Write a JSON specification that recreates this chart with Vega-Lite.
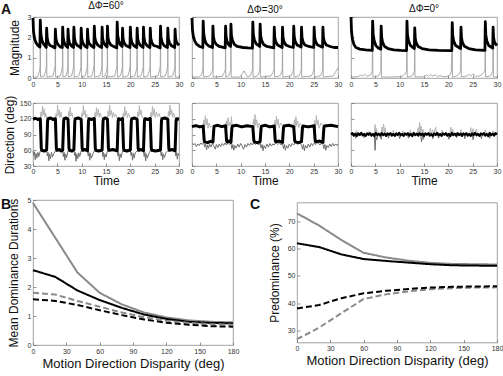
{
"$schema": "https://vega.github.io/schema/vega-lite/v6.json",
"padding": {"left": 0, "top": 0, "right": 0, "bottom": 0},
"background": "white",
"bounds": "flush",
"spacing": 183,
"datasets": {
"m1k": [{"t":0,"v":2.95},{"t":0.1,"v":2.3},{"t":0.3,"v":1.95},{"t":0.6,"v":1.75},{"t":1.0,"v":1.6},{"t":1.42,"v":1.52},
{"t":1.5,"v":2.85},{"t":1.6,"v":2.2},{"t":1.8,"v":1.9},{"t":2.1,"v":1.7},{"t":2.4,"v":1.6},{"t":2.72,"v":1.5},
{"t":2.8,"v":2.45},{"t":2.9,"v":2.0},{"t":3.1,"v":1.75},{"t":3.5,"v":1.6},{"t":4.0,"v":1.55},{"t":4.52,"v":1.48},
{"t":4.6,"v":2.4},{"t":4.7,"v":1.95},{"t":4.9,"v":1.75},{"t":5.3,"v":1.6},{"t":5.7,"v":1.52},{"t":6.02,"v":1.5},
{"t":6.1,"v":2.5},{"t":6.2,"v":2.0},{"t":6.4,"v":1.75},{"t":6.7,"v":1.6},{"t":7.12,"v":1.5},
{"t":7.2,"v":2.4},{"t":7.3,"v":1.95},{"t":7.5,"v":1.72},{"t":7.9,"v":1.58},{"t":8.32,"v":1.5},
{"t":8.4,"v":2.5},{"t":8.5,"v":2.0},{"t":8.7,"v":1.75},{"t":9.1,"v":1.6},{"t":9.5,"v":1.55},{"t":9.82,"v":1.48},
{"t":9.9,"v":2.45},{"t":10.0,"v":1.95},{"t":10.2,"v":1.75},{"t":10.6,"v":1.58},{"t":11.12,"v":1.5},
{"t":11.2,"v":2.4},{"t":11.3,"v":1.95},{"t":11.5,"v":1.72},{"t":11.9,"v":1.6},{"t":12.52,"v":1.5},
{"t":12.6,"v":2.55},{"t":12.7,"v":2.0},{"t":12.9,"v":1.78},{"t":13.3,"v":1.62},{"t":13.7,"v":1.55},{"t":14.12,"v":1.5},
{"t":14.2,"v":2.5},{"t":14.3,"v":1.95},{"t":14.5,"v":1.75},{"t":14.9,"v":1.6},{"t":15.22,"v":1.52},
{"t":15.3,"v":2.55},{"t":15.4,"v":2.0},{"t":15.6,"v":1.78},{"t":16.0,"v":1.62},{"t":16.6,"v":1.55},{"t":17.22,"v":1.48},
{"t":17.3,"v":2.75},{"t":17.4,"v":2.1},{"t":17.6,"v":1.85},{"t":17.9,"v":1.65},{"t":18.32,"v":1.55},
{"t":18.4,"v":2.45},{"t":18.5,"v":1.95},{"t":18.7,"v":1.75},{"t":19.1,"v":1.6},{"t":19.92,"v":1.5},
{"t":20.0,"v":2.5},{"t":20.1,"v":2.0},{"t":20.3,"v":1.75},{"t":20.7,"v":1.6},{"t":21.32,"v":1.5},
{"t":21.4,"v":2.45},{"t":21.5,"v":1.95},{"t":21.7,"v":1.75},{"t":22.1,"v":1.6},{"t":22.62,"v":1.5},
{"t":22.7,"v":2.5},{"t":22.8,"v":2.0},{"t":23.0,"v":1.75},{"t":23.4,"v":1.6},{"t":24.02,"v":1.5},
{"t":24.1,"v":2.45},{"t":24.2,"v":1.95},{"t":24.4,"v":1.75},{"t":24.8,"v":1.6},{"t":25.5,"v":1.55},{"t":26.12,"v":1.48},
{"t":26.2,"v":2.55},{"t":26.3,"v":2.0},{"t":26.5,"v":1.78},{"t":26.9,"v":1.6},{"t":27.62,"v":1.5},
{"t":27.7,"v":2.45},{"t":27.8,"v":1.95},{"t":28.0,"v":1.75},{"t":28.4,"v":1.6},{"t":29.12,"v":1.5},
{"t":29.2,"v":2.4},{"t":29.3,"v":1.95},{"t":29.5,"v":1.75},{"t":30,"v":1.6}],
"m1g": [{"t":0,"v":0.05},{"t":0.3,"v":0.03},{"t":1.0,"v":0.08},{"t":1.3,"v":0.3},{"t":1.45,"v":0.55},{"t":1.5,"v":2.3},{"t":1.55,"v":0.06},
{"t":2.3,"v":0.1},{"t":2.6,"v":0.35},{"t":2.75,"v":0.6},{"t":2.8,"v":2.2},{"t":2.85,"v":0.05},
{"t":4.1,"v":0.1},{"t":4.4,"v":0.4},{"t":4.55,"v":0.6},{"t":4.6,"v":2.1},{"t":4.65,"v":0.05},
{"t":5.6,"v":0.1},{"t":5.9,"v":0.35},{"t":6.05,"v":0.55},{"t":6.1,"v":2.2},{"t":6.15,"v":0.05},
{"t":6.8,"v":0.1},{"t":7.0,"v":0.3},{"t":7.15,"v":0.5},{"t":7.2,"v":2.1},{"t":7.25,"v":0.05},
{"t":7.9,"v":0.1},{"t":8.2,"v":0.35},{"t":8.35,"v":0.6},{"t":8.4,"v":2.2},{"t":8.45,"v":0.05},
{"t":9.4,"v":0.1},{"t":9.7,"v":0.35},{"t":9.85,"v":0.55},{"t":9.9,"v":2.15},{"t":9.95,"v":0.05},
{"t":10.7,"v":0.1},{"t":11.0,"v":0.35},{"t":11.15,"v":0.55},{"t":11.2,"v":2.1},{"t":11.25,"v":0.05},
{"t":12.1,"v":0.1},{"t":12.4,"v":0.4},{"t":12.55,"v":0.6},{"t":12.6,"v":2.25},{"t":12.65,"v":0.05},
{"t":13.7,"v":0.1},{"t":14.0,"v":0.35},{"t":14.15,"v":0.55},{"t":14.2,"v":2.2},{"t":14.25,"v":0.05},
{"t":14.8,"v":0.1},{"t":15.1,"v":0.35},{"t":15.25,"v":0.55},{"t":15.3,"v":2.25},{"t":15.35,"v":0.05},
{"t":16.8,"v":0.1},{"t":17.1,"v":0.4},{"t":17.25,"v":0.6},{"t":17.3,"v":2.4},{"t":17.35,"v":0.05},
{"t":17.9,"v":0.1},{"t":18.2,"v":0.3},{"t":18.35,"v":0.5},{"t":18.4,"v":2.15},{"t":18.45,"v":0.05},
{"t":19.5,"v":0.1},{"t":19.8,"v":0.35},{"t":19.95,"v":0.55},{"t":20.0,"v":2.2},{"t":20.05,"v":0.05},
{"t":20.9,"v":0.1},{"t":21.2,"v":0.35},{"t":21.35,"v":0.55},{"t":21.4,"v":2.15},{"t":21.45,"v":0.05},
{"t":22.2,"v":0.1},{"t":22.5,"v":0.35},{"t":22.65,"v":0.55},{"t":22.7,"v":2.2},{"t":22.75,"v":0.05},
{"t":23.6,"v":0.1},{"t":23.9,"v":0.35},{"t":24.05,"v":0.55},{"t":24.1,"v":2.15},{"t":24.15,"v":0.05},
{"t":25.7,"v":0.1},{"t":26.0,"v":0.4},{"t":26.15,"v":0.6},{"t":26.2,"v":2.25},{"t":26.25,"v":0.05},
{"t":27.2,"v":0.1},{"t":27.5,"v":0.35},{"t":27.65,"v":0.55},{"t":27.7,"v":2.15},{"t":27.75,"v":0.05},
{"t":28.7,"v":0.1},{"t":29.0,"v":0.35},{"t":29.15,"v":0.55},{"t":29.2,"v":2.1},{"t":29.25,"v":0.05},{"t":30,"v":0.05}],
"m2k": [{"t":0,"v":2.95},{"t":0.1,"v":2.35},{"t":0.3,"v":2.0},{"t":0.6,"v":1.8},{"t":1.0,"v":1.65},{"t":1.6,"v":1.55},{"t":2.22,"v":1.5},
{"t":2.3,"v":2.8},{"t":2.4,"v":2.2},{"t":2.6,"v":1.9},{"t":2.9,"v":1.7},{"t":3.4,"v":1.58},{"t":4.22,"v":1.5},
{"t":4.3,"v":2.55},{"t":4.4,"v":2.05},{"t":4.6,"v":1.8},{"t":5.0,"v":1.65},{"t":5.6,"v":1.55},{"t":6.82,"v":1.48},
{"t":6.9,"v":2.55},{"t":7.0,"v":2.05},{"t":7.2,"v":1.8},{"t":7.5,"v":1.65},{"t":7.92,"v":1.55},
{"t":8.0,"v":2.65},{"t":8.1,"v":2.1},{"t":8.3,"v":1.85},{"t":8.7,"v":1.65},{"t":9.3,"v":1.55},{"t":10.5,"v":1.5},{"t":11.5,"v":1.48},{"t":12.42,"v":1.47},
{"t":12.5,"v":2.75},{"t":12.6,"v":2.15},{"t":12.8,"v":1.88},{"t":13.2,"v":1.68},{"t":13.92,"v":1.55},
{"t":14.0,"v":2.65},{"t":14.1,"v":2.1},{"t":14.3,"v":1.85},{"t":14.7,"v":1.65},{"t":15.4,"v":1.55},{"t":16.82,"v":1.48},
{"t":16.9,"v":2.5},{"t":17.0,"v":2.0},{"t":17.2,"v":1.78},{"t":17.6,"v":1.62},{"t":18.52,"v":1.5},
{"t":18.6,"v":2.5},{"t":18.7,"v":2.0},{"t":18.9,"v":1.78},{"t":19.3,"v":1.62},{"t":20.0,"v":1.55},{"t":20.82,"v":1.5},
{"t":20.9,"v":2.55},{"t":21.0,"v":2.05},{"t":21.2,"v":1.8},{"t":21.6,"v":1.62},{"t":22.42,"v":1.52},
{"t":22.5,"v":2.5},{"t":22.6,"v":2.0},{"t":22.8,"v":1.78},{"t":23.2,"v":1.62},{"t":24.0,"v":1.55},{"t":25.02,"v":1.5},
{"t":25.1,"v":2.5},{"t":25.2,"v":2.0},{"t":25.4,"v":1.78},{"t":25.8,"v":1.62},{"t":26.82,"v":1.52},
{"t":26.9,"v":2.5},{"t":27.0,"v":2.0},{"t":27.2,"v":1.78},{"t":27.6,"v":1.62},{"t":28.4,"v":1.55},{"t":29.2,"v":1.5},{"t":30,"v":1.5}],
"m2g": [{"t":0,"v":0.05},{"t":1.5,"v":0.05},{"t":1.9,"v":0.15},{"t":2.15,"v":0.3},{"t":2.25,"v":0.45},{"t":2.3,"v":2.3},{"t":2.35,"v":0.05},
{"t":3.6,"v":0.1},{"t":4.0,"v":0.25},{"t":4.25,"v":0.4},{"t":4.3,"v":2.1},{"t":4.35,"v":0.05},
{"t":6.2,"v":0.08},{"t":6.6,"v":0.25},{"t":6.85,"v":0.4},{"t":6.9,"v":2.1},{"t":6.95,"v":0.05},
{"t":7.5,"v":0.1},{"t":7.8,"v":0.25},{"t":7.95,"v":0.4},{"t":8.0,"v":2.2},{"t":8.05,"v":0.05},
{"t":9.8,"v":0.05},{"t":10.3,"v":0.2},{"t":10.7,"v":0.35},{"t":11.0,"v":0.22},{"t":11.4,"v":0.05},
{"t":11.9,"v":0.1},{"t":12.25,"v":0.25},{"t":12.45,"v":0.45},{"t":12.5,"v":2.3},{"t":12.55,"v":0.05},
{"t":13.4,"v":0.1},{"t":13.75,"v":0.25},{"t":13.95,"v":0.4},{"t":14.0,"v":2.2},{"t":14.05,"v":0.05},
{"t":16.2,"v":0.1},{"t":16.6,"v":0.25},{"t":16.85,"v":0.4},{"t":16.9,"v":2.1},{"t":16.95,"v":0.05},
{"t":18.0,"v":0.1},{"t":18.35,"v":0.25},{"t":18.55,"v":0.4},{"t":18.6,"v":2.1},{"t":18.65,"v":0.05},
{"t":20.3,"v":0.1},{"t":20.65,"v":0.25},{"t":20.85,"v":0.4},{"t":20.9,"v":2.1},{"t":20.95,"v":0.05},
{"t":21.9,"v":0.1},{"t":22.25,"v":0.25},{"t":22.45,"v":0.4},{"t":22.5,"v":2.1},{"t":22.55,"v":0.05},
{"t":24.5,"v":0.1},{"t":24.85,"v":0.25},{"t":25.05,"v":0.4},{"t":25.1,"v":2.1},{"t":25.15,"v":0.05},
{"t":26.3,"v":0.1},{"t":26.65,"v":0.25},{"t":26.85,"v":0.4},{"t":26.9,"v":2.1},{"t":26.95,"v":0.05},
{"t":29.0,"v":0.1},{"t":29.5,"v":0.3},{"t":30,"v":0.5}],
"m3k": [{"t":0,"v":3.0},{"t":0.1,"v":2.3},{"t":0.3,"v":1.9},{"t":0.6,"v":1.65},{"t":1.0,"v":1.5},{"t":1.8,"v":1.42},{"t":3.0,"v":1.38},{"t":4.37,"v":1.36},
{"t":4.45,"v":2.8},{"t":4.55,"v":2.15},{"t":4.75,"v":1.85},{"t":5.1,"v":1.6},{"t":5.6,"v":1.48},{"t":6.12,"v":1.42},
{"t":6.2,"v":2.55},{"t":6.3,"v":2.0},{"t":6.5,"v":1.75},{"t":6.9,"v":1.55},{"t":7.6,"v":1.45},{"t":8.8,"v":1.38},{"t":10.2,"v":1.36},{"t":11.42,"v":1.35},
{"t":11.5,"v":2.8},{"t":11.6,"v":2.15},{"t":11.8,"v":1.85},{"t":12.2,"v":1.6},{"t":13.02,"v":1.45},
{"t":13.1,"v":2.47},{"t":13.2,"v":1.95},{"t":13.4,"v":1.72},{"t":13.8,"v":1.55},{"t":14.6,"v":1.45},{"t":16.0,"v":1.38},{"t":18.0,"v":1.36},{"t":20.72,"v":1.35},
{"t":20.8,"v":2.72},{"t":20.9,"v":2.1},{"t":21.1,"v":1.82},{"t":21.5,"v":1.6},{"t":22.52,"v":1.45},
{"t":22.6,"v":2.5},{"t":22.7,"v":1.98},{"t":22.9,"v":1.74},{"t":23.3,"v":1.56},{"t":24.2,"v":1.45},{"t":25.6,"v":1.38},{"t":27.52,"v":1.36},
{"t":27.6,"v":2.77},{"t":27.7,"v":2.12},{"t":27.9,"v":1.83},{"t":28.3,"v":1.6},{"t":29.12,"v":1.47},
{"t":29.2,"v":2.5},{"t":29.3,"v":1.98},{"t":29.5,"v":1.74},{"t":30,"v":1.6}],
"m3g": [{"t":0,"v":0.05},{"t":1.5,"v":0.06},{"t":2.0,"v":0.15},{"t":2.4,"v":0.1},{"t":2.8,"v":0.18},{"t":3.3,"v":0.08},{"t":4.0,"v":0.15},{"t":4.35,"v":0.3},{"t":4.45,"v":2.2},{"t":4.5,"v":0.05},
{"t":5.6,"v":0.1},{"t":6.0,"v":0.25},{"t":6.15,"v":0.35},{"t":6.2,"v":2.1},{"t":6.25,"v":0.05},
{"t":9.0,"v":0.05},{"t":10.5,"v":0.08},{"t":11.1,"v":0.2},{"t":11.42,"v":0.35},{"t":11.5,"v":2.3},{"t":11.55,"v":0.05},
{"t":12.5,"v":0.1},{"t":12.9,"v":0.25},{"t":13.05,"v":0.35},{"t":13.1,"v":2.1},{"t":13.15,"v":0.05},
{"t":15.0,"v":0.06},{"t":15.5,"v":0.15},{"t":15.9,"v":0.08},{"t":16.3,"v":0.18},{"t":16.7,"v":0.1},{"t":17.3,"v":0.15},{"t":17.8,"v":0.07},{"t":18.3,"v":0.12},{"t":19.0,"v":0.06},{"t":20.2,"v":0.1},{"t":20.6,"v":0.3},{"t":20.8,"v":2.2},{"t":20.85,"v":0.05},
{"t":21.8,"v":0.1},{"t":22.3,"v":0.25},{"t":22.55,"v":0.35},{"t":22.6,"v":2.1},{"t":22.65,"v":0.05},
{"t":23.8,"v":0.1},{"t":24.2,"v":0.18},{"t":24.6,"v":0.1},{"t":25.1,"v":0.2},{"t":25.6,"v":0.08},{"t":26.5,"v":0.1},{"t":27.2,"v":0.25},{"t":27.52,"v":0.35},{"t":27.6,"v":2.3},{"t":27.65,"v":0.05},
{"t":28.6,"v":0.1},{"t":29.0,"v":0.25},{"t":29.15,"v":0.35},{"t":29.2,"v":2.1},{"t":29.25,"v":0.05},{"t":30,"v":0.05}],
"d1k": [{"t":0,"v":119},{"t":0.5,"v":121},{"t":1.0,"v":118.5},{"t":1.5,"v":120},{"t":1.7,"v":64},{"t":1.8,"v":60},{"t":2.3,"v":58.5},{"t":2.8,"v":60.5},{"t":3.0,"v":116},{"t":3.1,"v":120},{"t":3.6,"v":121.5},{"t":4.1,"v":118.5},{"t":4.6,"v":120},{"t":4.8,"v":64},{"t":4.9,"v":60},{"t":5.4,"v":61.5},{"t":5.8,"v":58.5},{"t":6.1,"v":60},{"t":6.3,"v":116},{"t":6.4,"v":120},{"t":6.8,"v":121.5},{"t":7.2,"v":119},{"t":7.4,"v":64},{"t":7.5,"v":60},{"t":8.0,"v":58.5},{"t":8.4,"v":61},{"t":8.6,"v":116},{"t":8.7,"v":120},{"t":9.3,"v":121.5},{"t":9.9,"v":119},{"t":10.1,"v":64},{"t":10.2,"v":60},{"t":10.7,"v":61.5},{"t":11.2,"v":59},{"t":11.4,"v":116},{"t":11.5,"v":120},{"t":12.0,"v":118.5},{"t":12.6,"v":120.5},{"t":12.8,"v":64},{"t":12.9,"v":60},{"t":13.5,"v":58.5},{"t":14.2,"v":60.5},{"t":14.4,"v":116},{"t":14.5,"v":120},{"t":14.9,"v":121.5},{"t":15.3,"v":119},{"t":15.5,"v":64},{"t":15.6,"v":60},{"t":16.4,"v":61.5},{"t":17.3,"v":59},{"t":17.5,"v":116},{"t":17.6,"v":120},{"t":18.0,"v":118.5},{"t":18.4,"v":120.5},{"t":18.6,"v":64},{"t":18.7,"v":60},{"t":19.3,"v":58.5},{"t":20.0,"v":60.5},{"t":20.2,"v":116},{"t":20.3,"v":120},{"t":20.9,"v":121.5},{"t":21.4,"v":119},{"t":21.6,"v":64},{"t":21.7,"v":60},{"t":22.2,"v":61.5},{"t":22.7,"v":59},{"t":22.9,"v":116},{"t":23.0,"v":120},{"t":23.6,"v":118.5},{"t":24.1,"v":120.5},{"t":24.3,"v":64},{"t":24.4,"v":60},{"t":25.2,"v":58.5},{"t":26.2,"v":60.5},{"t":26.4,"v":116},{"t":26.5,"v":120},{"t":27.1,"v":121.5},{"t":27.7,"v":119},{"t":27.9,"v":64},{"t":28.0,"v":60},{"t":28.6,"v":61.5},{"t":29.2,"v":59},{"t":29.4,"v":116},{"t":29.5,"v":120},{"t":30,"v":119}],
"d1l": [{"t":0,"v":121},{"t":1.5,"v":121},{"t":1.65,"v":133},{"t":1.8,"v":124},{"t":1.95,"v":144},{"t":2.1,"v":127},{"t":2.3,"v":139},{"t":2.45,"v":123},{"t":2.6,"v":131},{"t":2.8,"v":121},
{"t":4.6,"v":121},{"t":4.75,"v":130},{"t":4.9,"v":123},{"t":5.05,"v":146},{"t":5.2,"v":126},{"t":5.4,"v":137},{"t":5.55,"v":122},{"t":5.75,"v":133},{"t":5.9,"v":124},{"t":6.1,"v":121},
{"t":7.2,"v":121},{"t":7.35,"v":134},{"t":7.5,"v":124},{"t":7.65,"v":142},{"t":7.8,"v":125},{"t":8.0,"v":131},{"t":8.2,"v":123},{"t":8.4,"v":121},
{"t":9.9,"v":121},{"t":10.05,"v":131},{"t":10.2,"v":124},{"t":10.35,"v":145},{"t":10.5,"v":127},{"t":10.7,"v":136},{"t":10.85,"v":122},{"t":11.0,"v":129},{"t":11.2,"v":121},
{"t":12.6,"v":121},{"t":12.75,"v":132},{"t":12.9,"v":123},{"t":13.05,"v":141},{"t":13.2,"v":126},{"t":13.4,"v":138},{"t":13.6,"v":123},{"t":13.8,"v":131},{"t":14.0,"v":124},{"t":14.2,"v":121},
{"t":15.3,"v":121},{"t":15.45,"v":135},{"t":15.6,"v":124},{"t":15.75,"v":146},{"t":15.9,"v":127},{"t":16.1,"v":136},{"t":16.3,"v":122},{"t":16.5,"v":132},{"t":16.7,"v":124},{"t":16.95,"v":129},{"t":17.3,"v":121},
{"t":18.4,"v":121},{"t":18.55,"v":131},{"t":18.7,"v":123},{"t":18.85,"v":143},{"t":19.0,"v":126},{"t":19.2,"v":135},{"t":19.4,"v":122},{"t":19.6,"v":130},{"t":20.0,"v":121},
{"t":21.4,"v":121},{"t":21.55,"v":133},{"t":21.7,"v":124},{"t":21.85,"v":145},{"t":22.0,"v":127},{"t":22.2,"v":137},{"t":22.4,"v":123},{"t":22.7,"v":121},
{"t":24.1,"v":121},{"t":24.25,"v":132},{"t":24.4,"v":123},{"t":24.55,"v":144},{"t":24.7,"v":126},{"t":24.9,"v":139},{"t":25.1,"v":122},{"t":25.35,"v":133},{"t":25.6,"v":124},{"t":25.9,"v":130},{"t":26.2,"v":121},
{"t":27.7,"v":121},{"t":27.85,"v":134},{"t":28.0,"v":124},{"t":28.15,"v":146},{"t":28.3,"v":127},{"t":28.5,"v":137},{"t":28.7,"v":123},{"t":28.9,"v":131},{"t":29.2,"v":121},{"t":30,"v":121}],
"d1d": [{"t":0,"v":58},{"t":0.15,"v":50},{"t":0.3,"v":57},{"t":0.45,"v":42},{"t":0.6,"v":54},{"t":0.8,"v":45},{"t":1.0,"v":56},{"t":1.2,"v":48},{"t":1.5,"v":59},
{"t":2.8,"v":59},{"t":2.95,"v":49},{"t":3.1,"v":56},{"t":3.25,"v":40},{"t":3.4,"v":53},{"t":3.6,"v":44},{"t":3.8,"v":56},{"t":4.0,"v":47},{"t":4.3,"v":54},{"t":4.6,"v":59},
{"t":6.1,"v":59},{"t":6.25,"v":48},{"t":6.4,"v":56},{"t":6.55,"v":41},{"t":6.7,"v":53},{"t":6.9,"v":46},{"t":7.2,"v":59},
{"t":8.4,"v":59},{"t":8.55,"v":50},{"t":8.7,"v":56},{"t":8.85,"v":39},{"t":9.0,"v":53},{"t":9.2,"v":44},{"t":9.4,"v":55},{"t":9.6,"v":48},{"t":9.9,"v":59},
{"t":11.2,"v":59},{"t":11.35,"v":49},{"t":11.5,"v":56},{"t":11.65,"v":41},{"t":11.8,"v":54},{"t":12.0,"v":45},{"t":12.3,"v":53},{"t":12.6,"v":59},
{"t":14.2,"v":59},{"t":14.35,"v":48},{"t":14.5,"v":56},{"t":14.65,"v":42},{"t":14.8,"v":53},{"t":15.0,"v":47},{"t":15.3,"v":59},
{"t":17.3,"v":59},{"t":17.45,"v":49},{"t":17.6,"v":56},{"t":17.75,"v":40},{"t":17.9,"v":53},{"t":18.1,"v":46},{"t":18.4,"v":59},
{"t":20.0,"v":59},{"t":20.15,"v":50},{"t":20.3,"v":56},{"t":20.45,"v":41},{"t":20.6,"v":54},{"t":20.8,"v":45},{"t":21.0,"v":55},{"t":21.4,"v":59},
{"t":22.7,"v":59},{"t":22.85,"v":48},{"t":23.0,"v":56},{"t":23.15,"v":40},{"t":23.3,"v":53},{"t":23.5,"v":45},{"t":23.8,"v":54},{"t":24.1,"v":59},
{"t":26.2,"v":59},{"t":26.35,"v":49},{"t":26.5,"v":56},{"t":26.65,"v":42},{"t":26.8,"v":53},{"t":27.0,"v":46},{"t":27.3,"v":55},{"t":27.7,"v":59},
{"t":29.2,"v":59},{"t":29.35,"v":49},{"t":29.5,"v":56},{"t":29.65,"v":43},{"t":29.8,"v":54},{"t":30,"v":50}],
"d2k": [{"t":0,"v":105},{"t":0.8,"v":107},{"t":1.6,"v":104.5},{"t":2.3,"v":106},{"t":2.5,"v":79},{"t":2.6,"v":76},{"t":3.2,"v":74.5},{"t":3.8,"v":77},{"t":4.3,"v":75.5},{"t":4.5,"v":103},{"t":4.6,"v":106},{"t":5.3,"v":107.5},{"t":6.1,"v":105},{"t":6.9,"v":106.5},{"t":7.1,"v":79},{"t":7.2,"v":76},{"t":7.6,"v":77.5},{"t":8.0,"v":75},{"t":8.2,"v":103},{"t":8.3,"v":106},{"t":9.2,"v":107.5},{"t":10.2,"v":104.5},{"t":11.3,"v":106.5},{"t":12.5,"v":105},{"t":12.7,"v":79},{"t":12.8,"v":76},{"t":13.4,"v":74.5},{"t":14.0,"v":76.5},{"t":14.2,"v":103},{"t":14.3,"v":106},{"t":15.1,"v":107.5},{"t":16.0,"v":104.5},{"t":16.9,"v":106},{"t":17.1,"v":79},{"t":17.2,"v":76},{"t":17.9,"v":77.5},{"t":18.6,"v":75},{"t":18.8,"v":103},{"t":18.9,"v":106},{"t":19.9,"v":107.5},{"t":20.9,"v":105},{"t":21.1,"v":79},{"t":21.2,"v":76},{"t":21.9,"v":74.5},{"t":22.5,"v":76.5},{"t":22.7,"v":103},{"t":22.8,"v":106},{"t":23.9,"v":104.5},{"t":25.1,"v":106.5},{"t":25.3,"v":79},{"t":25.4,"v":76},{"t":26.2,"v":77.5},{"t":26.9,"v":75},{"t":27.1,"v":103},{"t":27.2,"v":106},{"t":28.6,"v":107.5},{"t":30,"v":105}],
"d2l": [{"t":0,"v":107},{"t":2.3,"v":107},{"t":2.45,"v":118},{"t":2.6,"v":104},{"t":2.75,"v":126},{"t":2.9,"v":108},{"t":3.1,"v":120},{"t":3.3,"v":102},{"t":3.5,"v":112},{"t":3.8,"v":104},{"t":4.3,"v":107},
{"t":6.9,"v":107},{"t":7.05,"v":116},{"t":7.2,"v":103},{"t":7.4,"v":122},{"t":7.6,"v":106},{"t":7.8,"v":113},{"t":8.0,"v":107},{"t":8.1,"v":124},{"t":8.25,"v":107},
{"t":12.5,"v":107},{"t":12.65,"v":119},{"t":12.8,"v":104},{"t":12.95,"v":128},{"t":13.1,"v":107},{"t":13.3,"v":118},{"t":13.5,"v":103},{"t":13.75,"v":111},{"t":14.0,"v":107},
{"t":16.9,"v":107},{"t":17.05,"v":117},{"t":17.2,"v":103},{"t":17.35,"v":125},{"t":17.5,"v":108},{"t":17.7,"v":119},{"t":17.9,"v":102},{"t":18.2,"v":112},{"t":18.6,"v":107},
{"t":20.9,"v":107},{"t":21.05,"v":118},{"t":21.2,"v":104},{"t":21.35,"v":124},{"t":21.5,"v":107},{"t":21.7,"v":116},{"t":21.9,"v":103},{"t":22.2,"v":111},{"t":22.5,"v":107},
{"t":25.1,"v":107},{"t":25.25,"v":117},{"t":25.4,"v":103},{"t":25.55,"v":126},{"t":25.7,"v":108},{"t":25.9,"v":118},{"t":26.1,"v":102},{"t":26.5,"v":112},{"t":26.9,"v":107},{"t":30,"v":107}],
"d2d": [{"t":0,"v":74},{"t":0.3,"v":70},{"t":0.6,"v":73},{"t":0.9,"v":67},{"t":1.2,"v":72},{"t":1.5,"v":69},{"t":1.8,"v":74},{"t":2.1,"v":71},{"t":2.4,"v":75},{"t":2.6,"v":66},{"t":2.8,"v":72},{"t":3.0,"v":61},{"t":3.2,"v":70},{"t":3.4,"v":64},{"t":3.6,"v":72},{"t":3.9,"v":66},{"t":4.2,"v":73},{"t":4.5,"v":68},{"t":4.8,"v":62},{"t":5.0,"v":71},{"t":5.3,"v":65},{"t":5.6,"v":72},{"t":5.9,"v":67},{"t":6.2,"v":73},{"t":6.5,"v":69},{"t":6.8,"v":74},{"t":7.1,"v":70},{"t":7.4,"v":75},{"t":7.7,"v":71},{"t":8.0,"v":74},{"t":8.2,"v":63},{"t":8.4,"v":71},{"t":8.6,"v":60},{"t":8.8,"v":69},{"t":9.1,"v":64},{"t":9.4,"v":72},{"t":9.7,"v":66},{"t":10.0,"v":73},{"t":10.3,"v":68},{"t":10.6,"v":62},{"t":10.9,"v":71},{"t":11.2,"v":66},{"t":11.5,"v":73},{"t":11.8,"v":69},{"t":12.1,"v":74},{"t":12.4,"v":70},{"t":12.7,"v":75},{"t":13.0,"v":71},{"t":13.4,"v":74},{"t":13.7,"v":70},{"t":14.0,"v":74},{"t":14.2,"v":64},{"t":14.4,"v":71},{"t":14.6,"v":59},{"t":14.8,"v":69},{"t":15.1,"v":63},{"t":15.4,"v":72},{"t":15.7,"v":66},{"t":16.0,"v":73},{"t":16.3,"v":68},{"t":16.6,"v":72},{"t":16.9,"v":70},{"t":17.2,"v":75},{"t":17.6,"v":71},{"t":18.0,"v":74},{"t":18.3,"v":70},{"t":18.6,"v":74},{"t":18.8,"v":63},{"t":19.0,"v":71},{"t":19.2,"v":60},{"t":19.4,"v":69},{"t":19.7,"v":64},{"t":20.0,"v":72},{"t":20.3,"v":67},{"t":20.6,"v":73},{"t":20.9,"v":70},{"t":21.3,"v":75},{"t":21.7,"v":71},{"t":22.1,"v":74},{"t":22.5,"v":70},{"t":22.7,"v":62},{"t":22.9,"v":71},{"t":23.1,"v":59},{"t":23.3,"v":69},{"t":23.6,"v":64},{"t":23.9,"v":72},{"t":24.2,"v":66},{"t":24.5,"v":73},{"t":24.8,"v":69},{"t":25.1,"v":74},{"t":25.5,"v":71},{"t":25.9,"v":75},{"t":26.3,"v":70},{"t":26.6,"v":74},{"t":26.9,"v":71},{"t":27.1,"v":63},{"t":27.3,"v":71},{"t":27.5,"v":60},{"t":27.7,"v":69},{"t":28.0,"v":65},{"t":28.3,"v":72},{"t":28.6,"v":67},{"t":28.9,"v":73},{"t":29.2,"v":68},{"t":29.5,"v":72},{"t":29.8,"v":69},{"t":30,"v":72}],
"d3k": [{"t":0,"v":90},{"t":0.3,"v":92.5},{"t":0.6,"v":88},{"t":0.9,"v":91.5},{"t":1.2,"v":87.5},{"t":1.5,"v":92},{"t":1.8,"v":89},{"t":2.1,"v":93},{"t":2.4,"v":88.5},{"t":2.7,"v":91},{"t":3.0,"v":87.5},{"t":3.3,"v":92},{"t":3.6,"v":89.5},{"t":3.9,"v":92.5},{"t":4.2,"v":88},{"t":4.5,"v":91},{"t":4.8,"v":87},{"t":5.1,"v":93},{"t":5.4,"v":89},{"t":5.7,"v":91.5},{"t":6.0,"v":88},{"t":6.3,"v":92.5},{"t":6.6,"v":89},{"t":6.9,"v":91.5},{"t":7.2,"v":87.5},{"t":7.5,"v":92},{"t":7.8,"v":89.5},{"t":8.1,"v":92.5},{"t":8.4,"v":88},{"t":8.7,"v":91},{"t":9.0,"v":87.5},{"t":9.3,"v":92},{"t":9.6,"v":89},{"t":9.9,"v":93},{"t":10.2,"v":88.5},{"t":10.5,"v":91},{"t":10.8,"v":87.5},{"t":11.1,"v":92},{"t":11.4,"v":89.5},{"t":11.7,"v":92.5},{"t":12.0,"v":88},{"t":12.3,"v":91},{"t":12.6,"v":87},{"t":12.9,"v":93},{"t":13.2,"v":89},{"t":13.5,"v":91.5},{"t":13.8,"v":88},{"t":14.1,"v":92.5},{"t":14.4,"v":89},{"t":14.7,"v":91.5},{"t":15.0,"v":87.5},{"t":15.3,"v":92},{"t":15.6,"v":89.5},{"t":15.9,"v":92.5},{"t":16.2,"v":88},{"t":16.5,"v":91},{"t":16.8,"v":87.5},{"t":17.1,"v":92},{"t":17.4,"v":89},{"t":17.7,"v":93},{"t":18.0,"v":88.5},{"t":18.3,"v":91},{"t":18.6,"v":87.5},{"t":18.9,"v":92},{"t":19.2,"v":89.5},{"t":19.5,"v":92.5},{"t":19.8,"v":88},{"t":20.1,"v":91},{"t":20.4,"v":87},{"t":20.7,"v":93},{"t":21.0,"v":89},{"t":21.3,"v":91.5},{"t":21.6,"v":88},{"t":21.9,"v":92.5},{"t":22.2,"v":89},{"t":22.5,"v":91.5},{"t":22.8,"v":87.5},{"t":23.1,"v":92},{"t":23.4,"v":89.5},{"t":23.7,"v":92.5},{"t":24.0,"v":88},{"t":24.3,"v":91},{"t":24.6,"v":87.5},{"t":24.9,"v":92},{"t":25.2,"v":89},{"t":25.5,"v":93},{"t":25.8,"v":88.5},{"t":26.1,"v":91},{"t":26.4,"v":87.5},{"t":26.7,"v":92},{"t":27.0,"v":89.5},{"t":27.3,"v":92.5},{"t":27.6,"v":88},{"t":27.9,"v":91},{"t":28.2,"v":87},{"t":28.5,"v":93},{"t":28.8,"v":89},{"t":29.1,"v":91.5},{"t":29.4,"v":88},{"t":29.7,"v":92.5},{"t":30,"v":90}],
"d3l": [{"t":0,"v":90},{"t":1.0,"v":90},{"t":1.2,"v":97},{"t":1.4,"v":90},{"t":3.5,"v":90},{"t":3.7,"v":96},{"t":3.9,"v":90},{"t":4.8,"v":90},{"t":4.95,"v":109},{"t":5.1,"v":92},{"t":5.25,"v":101},{"t":5.4,"v":90},{"t":6.2,"v":90},{"t":6.35,"v":104},{"t":6.5,"v":91},{"t":6.7,"v":110},{"t":6.85,"v":92},{"t":7.0,"v":103},{"t":7.15,"v":90},{"t":8.5,"v":90},{"t":8.7,"v":98},{"t":8.9,"v":90},{"t":10.5,"v":90},{"t":10.7,"v":97},{"t":10.9,"v":90},{"t":12.0,"v":90},{"t":12.2,"v":99},{"t":12.4,"v":90},{"t":13.6,"v":90},{"t":13.8,"v":103},{"t":13.95,"v":93},{"t":14.1,"v":113},{"t":14.25,"v":95},{"t":14.4,"v":106},{"t":14.6,"v":91},{"t":14.8,"v":100},{"t":15.0,"v":90},{"t":16.1,"v":90},{"t":16.3,"v":102},{"t":16.5,"v":91},{"t":16.8,"v":99},{"t":17.0,"v":90},{"t":17.4,"v":104},{"t":17.6,"v":90},{"t":18.5,"v":90},{"t":18.7,"v":98},{"t":18.9,"v":90},{"t":20.3,"v":90},{"t":20.5,"v":104},{"t":20.7,"v":91},{"t":20.9,"v":100},{"t":21.1,"v":90},{"t":22.4,"v":90},{"t":22.6,"v":99},{"t":22.8,"v":90},{"t":24.4,"v":90},{"t":24.6,"v":103},{"t":24.8,"v":91},{"t":25.1,"v":101},{"t":25.3,"v":90},{"t":25.8,"v":100},{"t":26.0,"v":90},{"t":27.4,"v":90},{"t":27.6,"v":99},{"t":27.8,"v":90},{"t":29.0,"v":90},{"t":29.2,"v":97},{"t":29.4,"v":90},{"t":30,"v":90}],
"d3d": [{"t":0,"v":90},{"t":0.8,"v":90},{"t":1.0,"v":83},{"t":1.2,"v":90},{"t":2.5,"v":90},{"t":2.7,"v":84},{"t":2.9,"v":90},{"t":4.8,"v":90},{"t":4.95,"v":60},{"t":5.1,"v":86},{"t":5.3,"v":80},{"t":5.5,"v":90},{"t":6.0,"v":90},{"t":6.2,"v":81},{"t":6.4,"v":90},{"t":7.5,"v":90},{"t":7.7,"v":83},{"t":7.9,"v":90},{"t":9.8,"v":90},{"t":10.0,"v":82},{"t":10.2,"v":90},{"t":11.6,"v":90},{"t":11.8,"v":83},{"t":12.0,"v":90},{"t":14.3,"v":90},{"t":14.5,"v":76},{"t":14.7,"v":88},{"t":14.9,"v":81},{"t":15.1,"v":90},{"t":16.6,"v":90},{"t":16.8,"v":82},{"t":17.0,"v":90},{"t":17.8,"v":90},{"t":18.0,"v":83},{"t":18.2,"v":90},{"t":19.9,"v":90},{"t":20.1,"v":81},{"t":20.3,"v":90},{"t":21.5,"v":90},{"t":21.7,"v":84},{"t":21.9,"v":90},{"t":23.2,"v":90},{"t":23.4,"v":82},{"t":23.6,"v":90},{"t":24.9,"v":90},{"t":25.1,"v":80},{"t":25.3,"v":90},{"t":26.6,"v":90},{"t":26.8,"v":82},{"t":27.0,"v":90},{"t":28.3,"v":90},{"t":28.5,"v":83},{"t":28.7,"v":90},{"t":30,"v":90}],
"pb": [{"s":"gs","x":0,"y":4.9},{"s":"gs","x":20,"y":3.7},{"s":"gs","x":40,"y":2.5},{"s":"gs","x":60,"y":1.8},{"s":"gs","x":80,"y":1.4},{"s":"gs","x":100,"y":1.12},{"s":"gs","x":120,"y":0.95},{"s":"gs","x":140,"y":0.85},{"s":"gs","x":160,"y":0.8},{"s":"gs","x":180,"y":0.78},
{"s":"ks","x":0,"y":2.58},{"s":"ks","x":20,"y":2.35},{"s":"ks","x":40,"y":1.88},{"s":"ks","x":60,"y":1.55},{"s":"ks","x":80,"y":1.28},{"s":"ks","x":100,"y":1.05},{"s":"ks","x":120,"y":0.9},{"s":"ks","x":140,"y":0.8},{"s":"ks","x":160,"y":0.76},{"s":"ks","x":180,"y":0.75},
{"s":"gd","x":0,"y":1.8},{"s":"gd","x":20,"y":1.74},{"s":"gd","x":40,"y":1.52},{"s":"gd","x":60,"y":1.32},{"s":"gd","x":80,"y":1.12},{"s":"gd","x":100,"y":0.96},{"s":"gd","x":120,"y":0.84},{"s":"gd","x":140,"y":0.76},{"s":"gd","x":160,"y":0.72},{"s":"gd","x":180,"y":0.7},
{"s":"kd","x":0,"y":1.58},{"s":"kd","x":20,"y":1.52},{"s":"kd","x":40,"y":1.38},{"s":"kd","x":60,"y":1.2},{"s":"kd","x":80,"y":1.03},{"s":"kd","x":100,"y":0.88},{"s":"kd","x":120,"y":0.77},{"s":"kd","x":140,"y":0.7},{"s":"kd","x":160,"y":0.65},{"s":"kd","x":180,"y":0.63}],
"pc": [{"s":"gs","x":0,"y":73},{"s":"gs","x":20,"y":68.5},{"s":"gs","x":40,"y":63.2},{"s":"gs","x":60,"y":58.5},{"s":"gs","x":80,"y":56.8},{"s":"gs","x":100,"y":55.6},{"s":"gs","x":120,"y":54.8},{"s":"gs","x":140,"y":54.4},{"s":"gs","x":160,"y":54.3},{"s":"gs","x":180,"y":54.2},
{"s":"ks","x":0,"y":62},{"s":"ks","x":20,"y":60.6},{"s":"ks","x":40,"y":57.9},{"s":"ks","x":60,"y":56.2},{"s":"ks","x":80,"y":55.5},{"s":"ks","x":100,"y":54.9},{"s":"ks","x":120,"y":54.3},{"s":"ks","x":140,"y":53.9},{"s":"ks","x":160,"y":53.8},{"s":"ks","x":180,"y":53.7},
{"s":"gd","x":0,"y":26.7},{"s":"gd","x":20,"y":31},{"s":"gd","x":40,"y":36.3},{"s":"gd","x":60,"y":41.5},{"s":"gd","x":80,"y":43.2},{"s":"gd","x":100,"y":44.3},{"s":"gd","x":120,"y":45.1},{"s":"gd","x":140,"y":45.5},{"s":"gd","x":160,"y":45.7},{"s":"gd","x":180,"y":45.8},
{"s":"kd","x":0,"y":38},{"s":"kd","x":20,"y":39.3},{"s":"kd","x":40,"y":41.8},{"s":"kd","x":60,"y":43.6},{"s":"kd","x":80,"y":44.5},{"s":"kd","x":100,"y":45.2},{"s":"kd","x":120,"y":45.7},{"s":"kd","x":140,"y":46},{"s":"kd","x":160,"y":46.1},{"s":"kd","x":180,"y":46.2}]
},
"vconcat": [
{
"columns": 3,
"bounds": "flush",
"spacing": {"column": 13, "row": 25},
"title": {"text": "A", "anchor": "start", "frame": "group", "fontSize": 14, "fontWeight": "bold", "dx": -32, "dy": 16, "offset": 0},
"concat": [
{"width": 146, "height": 61, "title": {"text": "ΔΦ=60°"},
 "encoding": {"x": {"field": "t", "type": "quantitative", "scale": {"domain": [0, 30]}, "axis": {"values": [0,5,10,15,20,25,30], "title": null}},
              "y": {"field": "v", "type": "quantitative", "scale": {"domain": [0, 3]}, "axis": {"values": [0,1,2,3], "title": "Magnitude", "titlePadding": 6}}},
 "layer": [
  {"data": {"name": "m1g"}, "mark": {"type": "line", "color": "#a0a0a0", "strokeWidth": 0.9}},
  {"data": {"name": "m1k"}, "mark": {"type": "line", "color": "#000000", "strokeWidth": 2.8, "strokeJoin": "round"}}
 ]},
{"width": 146, "height": 61, "title": {"text": "ΔΦ=30°"},
 "encoding": {"x": {"field": "t", "type": "quantitative", "scale": {"domain": [0, 30]}, "axis": {"values": [0,5,10,15,20,25,30], "title": null}},
              "y": {"field": "v", "type": "quantitative", "scale": {"domain": [0, 3]}, "axis": {"values": [0,1,2,3], "title": null, "labels": false}}},
 "layer": [
  {"data": {"name": "m2g"}, "mark": {"type": "line", "color": "#a0a0a0", "strokeWidth": 0.9}},
  {"data": {"name": "m2k"}, "mark": {"type": "line", "color": "#000000", "strokeWidth": 2.8, "strokeJoin": "round"}}
 ]},
{"width": 146, "height": 61, "title": {"text": "ΔΦ=0°"},
 "encoding": {"x": {"field": "t", "type": "quantitative", "scale": {"domain": [0, 30]}, "axis": {"values": [0,5,10,15,20,25,30], "title": null}},
              "y": {"field": "v", "type": "quantitative", "scale": {"domain": [0, 3]}, "axis": {"values": [0,1,2,3], "title": null, "labels": false}}},
 "layer": [
  {"data": {"name": "m3g"}, "mark": {"type": "line", "color": "#a0a0a0", "strokeWidth": 0.9}},
  {"data": {"name": "m3k"}, "mark": {"type": "line", "color": "#000000", "strokeWidth": 2.8, "strokeJoin": "round"}}
 ]},
{"width": 146, "height": 63,
 "encoding": {"x": {"field": "t", "type": "quantitative", "scale": {"domain": [0, 30]}, "axis": {"values": [0,5,10,15,20,25,30], "title": "Time", "titlePadding": 1, "labelPadding": 4}},
              "y": {"field": "v", "type": "quantitative", "scale": {"domain": [30, 150]}, "axis": {"values": [30,60,90,120,150], "title": "Direction (deg)", "titlePadding": 3}}},
 "layer": [
  {"data": {"name": "d1l"}, "mark": {"type": "line", "color": "#b4b4b4", "strokeWidth": 1}},
  {"data": {"name": "d1d"}, "mark": {"type": "line", "color": "#6e6e6e", "strokeWidth": 1}},
  {"data": {"name": "d1k"}, "mark": {"type": "line", "color": "#000000", "strokeWidth": 3, "strokeJoin": "round"}}
 ]},
{"width": 146, "height": 63,
 "encoding": {"x": {"field": "t", "type": "quantitative", "scale": {"domain": [0, 30]}, "axis": {"values": [0,5,10,15,20,25,30], "title": "Time", "titlePadding": 1, "labelPadding": 4}},
              "y": {"field": "v", "type": "quantitative", "scale": {"domain": [30, 150]}, "axis": {"values": [30,60,90,120,150], "title": null, "labels": false}}},
 "layer": [
  {"data": {"name": "d2l"}, "mark": {"type": "line", "color": "#b4b4b4", "strokeWidth": 1}},
  {"data": {"name": "d2d"}, "mark": {"type": "line", "color": "#6e6e6e", "strokeWidth": 1}},
  {"data": {"name": "d2k"}, "mark": {"type": "line", "color": "#000000", "strokeWidth": 3, "strokeJoin": "round"}}
 ]},
{"width": 146, "height": 63,
 "encoding": {"x": {"field": "t", "type": "quantitative", "scale": {"domain": [0, 30]}, "axis": {"values": [0,5,10,15,20,25,30], "title": "Time", "titlePadding": 1, "labelPadding": 4}},
              "y": {"field": "v", "type": "quantitative", "scale": {"domain": [30, 150]}, "axis": {"values": [30,60,90,120,150], "title": null, "labels": false}}},
 "layer": [
  {"data": {"name": "d3l"}, "mark": {"type": "line", "color": "#b4b4b4", "strokeWidth": 1}},
  {"data": {"name": "d3d"}, "mark": {"type": "line", "color": "#6e6e6e", "strokeWidth": 1}},
  {"data": {"name": "d3k"}, "mark": {"type": "line", "color": "#000000", "strokeWidth": 2.2, "strokeJoin": "round"}}
 ]}
]
},
{
"bounds": "flush",
"spacing": 64,
"center": true,
"hconcat": [
{"width": 200, "height": 145,
 "title": {"text": "B", "anchor": "start", "frame": "group", "fontSize": 14, "fontWeight": "bold", "dx": -32, "dy": 16, "offset": 0},
 "data": {"name": "pb"},
 "mark": {"type": "line", "strokeWidth": 2},
 "encoding": {
  "x": {"field": "x", "type": "quantitative", "scale": {"domain": [0, 180]}, "axis": {"values": [0,30,60,90,120,150,180], "title": "Motion Direction Disparity (deg)", "titlePadding": 3, "titleFontSize": 13}},
  "y": {"field": "y", "type": "quantitative", "scale": {"domain": [0, 5]}, "axis": {"values": [0,1,2,3,4,5], "title": "Mean Dominance Durations", "titlePadding": 7}},
  "color": {"field": "s", "type": "nominal", "scale": {"domain": ["gs","ks","gd","kd"], "range": ["#8a8a8a","#000000","#8a8a8a","#000000"]}, "legend": null},
  "strokeDash": {"field": "s", "type": "nominal", "scale": {"domain": ["gs","ks","gd","kd"], "range": [[1,0],[1,0],[6,3],[6,3]]}, "legend": null}
 }},
{"width": 200, "height": 140,
 "title": {"text": "C", "anchor": "start", "frame": "group", "fontSize": 14, "fontWeight": "bold", "dx": -47, "dy": 9, "offset": 0},
 "data": {"name": "pc"},
 "mark": {"type": "line", "strokeWidth": 2},
 "encoding": {
  "x": {"field": "x", "type": "quantitative", "scale": {"domain": [0, 180]}, "axis": {"values": [0,30,60,90,120,150,180], "title": "Motion Direction Disparity (deg)", "titlePadding": 3, "titleFontSize": 13}},
  "y": {"field": "y", "type": "quantitative", "scale": {"domain": [25.5, 77], "nice": false}, "axis": {"values": [30,40,50,60,70], "title": "Predominance (%)", "titlePadding": 6}},
  "color": {"field": "s", "type": "nominal", "scale": {"domain": ["gs","ks","gd","kd"], "range": ["#8a8a8a","#000000","#8a8a8a","#000000"]}, "legend": null},
  "strokeDash": {"field": "s", "type": "nominal", "scale": {"domain": ["gs","ks","gd","kd"], "range": [[1,0],[1,0],[6,3],[6,3]]}, "legend": null}
 }}
]
}
],
"config": {
 "font": "Liberation Sans",
 "view": {"stroke": "#8a8a8a", "strokeWidth": 0.8},
 "axis": {"labelFont": "Liberation Sans", "titleFont": "Liberation Sans", "labelFontSize": 7, "titleFontSize": 12, "titleFontWeight": "normal", "labelColor": "#333333", "titleColor": "#111111", "grid": false, "domain": false, "tickSize": -3, "tickColor": "#777777", "tickWidth": 0.8, "labelPadding": 5, "labelFlush": false, "labelOverlap": false},
 "title": {"font": "Liberation Sans", "fontSize": 10, "fontWeight": "normal", "color": "#111111", "offset": 2}
}
}
